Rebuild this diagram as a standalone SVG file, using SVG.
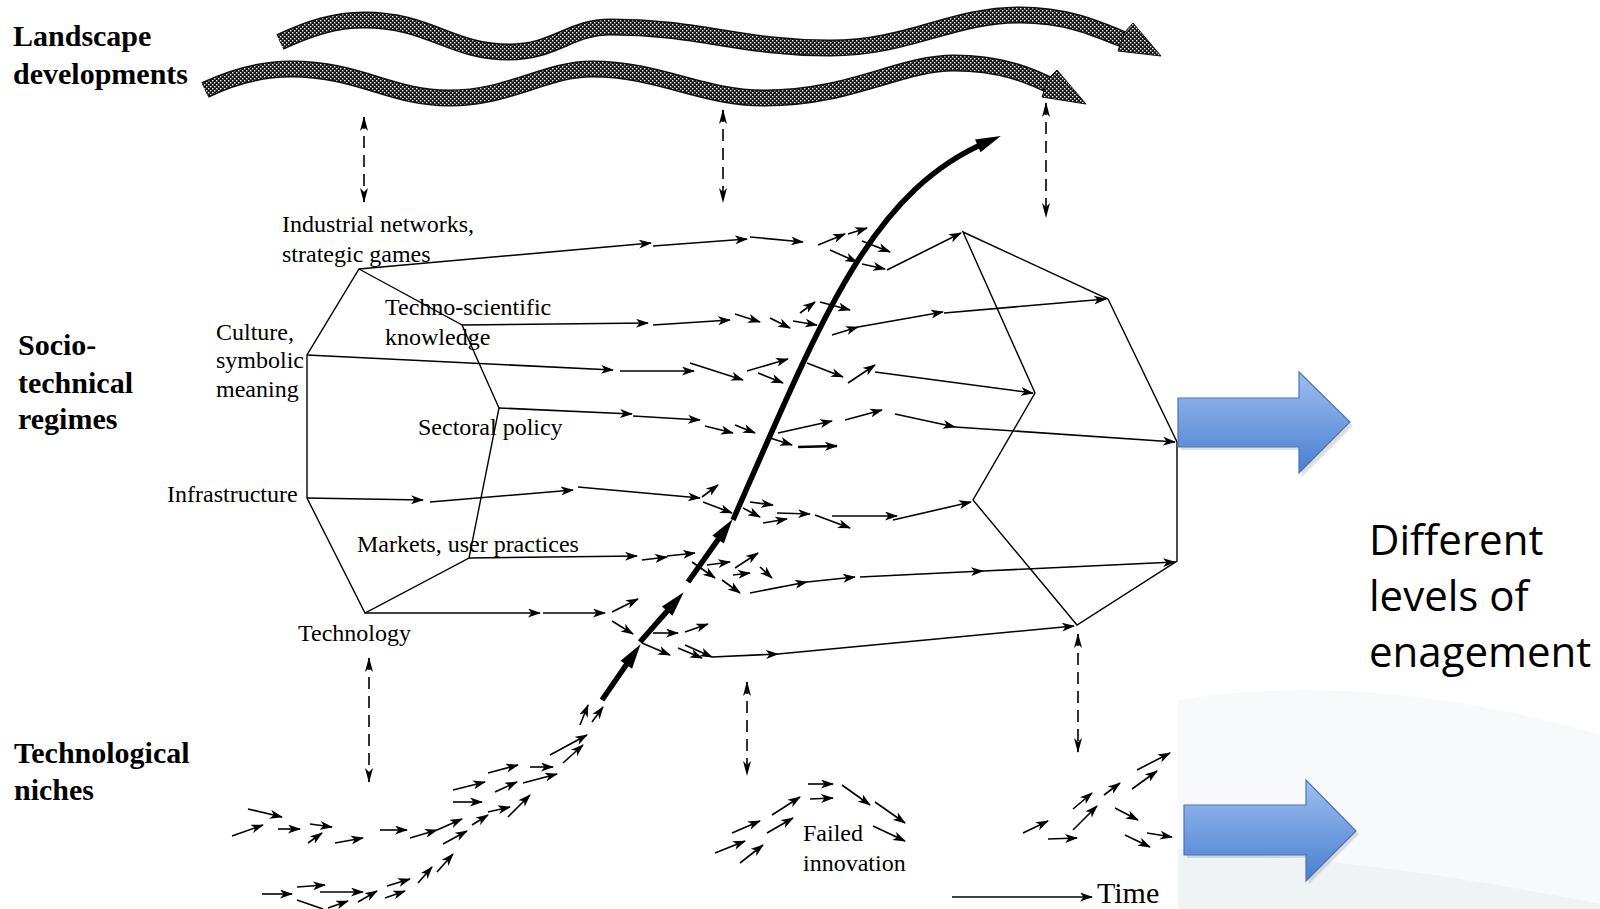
<svg xmlns="http://www.w3.org/2000/svg" width="1600" height="909" viewBox="0 0 1600 909">
<style>
.hd{font-family:"Liberation Serif","Times New Roman",serif;font-weight:bold;font-size:30px;fill:#000}
.lb{font-family:"Liberation Serif","Times New Roman",serif;font-size:24px;fill:#000}
.sn{font-family:"Open Sans","Noto Sans",sans-serif;font-size:42px;fill:#000}
.poly{fill:none;stroke:#000;stroke-width:1.4;stroke-linejoin:miter}
.s line{stroke:#000;stroke-width:1.6;marker-end:url(#ah)}
.dash{stroke:#000;stroke-width:1.6;stroke-dasharray:12 7;marker-start:url(#ad);marker-end:url(#ad)}
.thick{stroke:#000;stroke-width:5.5;fill:none;marker-end:url(#big)}
.bandEdge{fill:none;stroke:#111;stroke-width:17}
.bandFill{fill:none;stroke:url(#hatch);stroke-width:14}
.blue{fill:url(#bg);stroke:#4a75b5;stroke-width:1.2}
</style>
<defs>
<pattern id="hatch" width="4" height="4" patternUnits="userSpaceOnUse">
<rect width="4" height="4" fill="#161616"/>
<rect x="0" y="0" width="1.4" height="1.4" fill="#fff"/>
<rect x="2" y="2" width="1.4" height="1.4" fill="#fff"/>
</pattern>
<linearGradient id="bg" x1="0" y1="0" x2="0" y2="1">
<stop offset="0" stop-color="#9dbef0"/>
<stop offset="1" stop-color="#4a7fd0"/>
</linearGradient>
<marker id="ah" markerUnits="userSpaceOnUse" viewBox="-13 -4.5 14 9" refX="-1" refY="0" markerWidth="14" markerHeight="9" orient="auto">
<path d="M-13,-4.5 L0,0 L-13,4.5 L-9.5,0 Z" fill="#000"/>
</marker>
<marker id="ad" markerUnits="userSpaceOnUse" viewBox="-15 -4 16 8" refX="-1" refY="0" markerWidth="16" markerHeight="8" orient="auto-start-reverse">
<path d="M-15,-4 L0,0 L-15,4 L-11,0 Z" fill="#000"/>
</marker>
<marker id="big" markerUnits="userSpaceOnUse" viewBox="-11 -8 27 16" refX="0" refY="0" markerWidth="27" markerHeight="16" orient="auto">
<path d="M-10,-7 L15,0 L-10,7 Z" fill="#000"/>
</marker>
</defs>
<rect width="1600" height="909" fill="#fff"/>
<g id="slide-bg">
<path d="M1178,700 C1300,680 1450,690 1600,735 L1600,909 L1178,909 Z" fill="#f7f9fb"/>
<path d="M1178,850 C1350,858 1500,884 1600,904 L1600,909 L1178,909 Z" fill="#f0f3f4"/>
</g>
<g id="landscape-band-upper">
<path class="bandEdge" d="M280,42 C310,28 335,20 364,20 C430,20 450,52 509,52 C555,52 570,27 610,27 C700,27 740,48 830,48 C910,48 950,15 1020,15 C1070,15 1100,30 1132,43"/>
<path class="bandFill" d="M280,42 C310,28 335,20 364,20 C430,20 450,52 509,52 C555,52 570,27 610,27 C700,27 740,48 830,48 C910,48 950,15 1020,15 C1070,15 1100,30 1132,43"/>
<polygon points="1124,33 1133,23 1161,56 1118,51" fill="url(#hatch)" stroke="#111" stroke-width="1"/>
</g>
<g id="landscape-band-lower">
<path class="bandEdge" d="M205,90 C230,78 260,69 291,69 C360,69 390,98 449,98 C510,98 545,69 592,69 C660,69 700,98 765,98 C850,98 900,63 954,63 C1000,63 1030,75 1055,88"/>
<path class="bandFill" d="M205,90 C230,78 260,69 291,69 C360,69 390,98 449,98 C510,98 545,69 592,69 C660,69 700,98 765,98 C850,98 900,63 954,63 C1000,63 1030,75 1055,88"/>
<polygon points="1048,79 1057,70 1086,104 1042,97" fill="url(#hatch)" stroke="#111" stroke-width="1"/>
</g>
<g id="labels-levels">
<text class="hd" x="13" y="46">Landscape</text>
<text class="hd" x="13" y="84">developments</text>
<text class="hd" x="18" y="355">Socio-</text>
<text class="hd" x="18" y="393">technical</text>
<text class="hd" x="18" y="429">regimes</text>
<text class="hd" x="14" y="763">Technological</text>
<text class="hd" x="14" y="800">niches</text>
</g>
<g id="regime-left">
<polygon class="poly" points="359,269 462,325 499,408 469,558 365,613 307,498 307,355"/>
</g>
<g id="regime-right">
<polygon class="poly" points="963,232 1108,299 1177,442 1177,561 1077,625 973,500 1035,393"/>
</g>
<g id="dimension-labels">
<text class="lb" x="282" y="232">Industrial networks,</text>
<text class="lb" x="282" y="262">strategic games</text>
<text class="lb" x="385" y="315">Techno-scientific</text>
<text class="lb" x="385" y="345">knowledge</text>
<text class="lb" x="216" y="340">Culture,</text>
<text class="lb" x="216" y="368">symbolic</text>
<text class="lb" x="216" y="397">meaning</text>
<text class="lb" x="418" y="435">Sectoral policy</text>
<text class="lb" x="167" y="502">Infrastructure</text>
<text class="lb" x="357" y="552">Markets, user practices</text>
<text class="lb" x="298" y="641">Technology</text>
<text class="lb" x="803" y="841">Failed</text>
<text class="lb" x="803" y="871">innovation</text>
</g>
<g id="connectors">
<g class="s" id="stream-1">
<line x1="359" y1="269" x2="651" y2="243"/>
<line x1="653" y1="246" x2="747" y2="239"/>
<line x1="750" y1="237" x2="803" y2="242"/>
<line x1="818" y1="245" x2="845" y2="234"/>
<line x1="848" y1="234" x2="867" y2="228"/>
<line x1="862" y1="241" x2="890" y2="252"/>
<line x1="830" y1="250" x2="857" y2="262"/>
<line x1="862" y1="264" x2="885" y2="269"/>
<line x1="887" y1="270" x2="961" y2="233"/>
</g>
<g class="s" id="stream-2">
<line x1="462" y1="325" x2="648" y2="323"/>
<line x1="653" y1="325" x2="730" y2="320"/>
<line x1="735" y1="314" x2="760" y2="322"/>
<line x1="770" y1="318" x2="790" y2="328"/>
<line x1="793" y1="321" x2="817" y2="325"/>
<line x1="800" y1="313" x2="815" y2="302"/>
<line x1="820" y1="302" x2="850" y2="310"/>
<line x1="832" y1="335" x2="858" y2="327"/>
<line x1="858" y1="327" x2="943" y2="312"/>
<line x1="944" y1="313" x2="1106" y2="299"/>
</g>
<g class="s" id="stream-3">
<line x1="307" y1="355" x2="613" y2="370"/>
<line x1="620" y1="371" x2="694" y2="371"/>
<line x1="690" y1="363" x2="743" y2="380"/>
<line x1="747" y1="371" x2="788" y2="359"/>
<line x1="758" y1="373" x2="783" y2="383"/>
<line x1="807" y1="363" x2="843" y2="377"/>
<line x1="848" y1="383" x2="875" y2="365"/>
<line x1="875" y1="372" x2="1033" y2="393"/>
</g>
<g class="s" id="stream-4">
<line x1="499" y1="408" x2="632" y2="414"/>
<line x1="633" y1="416" x2="700" y2="420"/>
<line x1="705" y1="426" x2="733" y2="433"/>
<line x1="735" y1="425" x2="755" y2="433"/>
<line x1="778" y1="433" x2="832" y2="421"/>
<line x1="845" y1="420" x2="882" y2="410"/>
<line x1="770" y1="438" x2="792" y2="445"/>
<line x1="798" y1="447" x2="837" y2="446" style="stroke-width:2.4"/>
<line x1="895" y1="414" x2="955" y2="427"/>
<line x1="955" y1="427" x2="1175" y2="442"/>
</g>
<g class="s" id="stream-5">
<line x1="307" y1="498" x2="423" y2="500"/>
<line x1="430" y1="502" x2="573" y2="490"/>
<line x1="578" y1="487" x2="700" y2="498"/>
<line x1="702" y1="497" x2="718" y2="485"/>
<line x1="703" y1="502" x2="732" y2="513"/>
<line x1="750" y1="502" x2="773" y2="505"/>
<line x1="743" y1="508" x2="760" y2="517"/>
<line x1="763" y1="523" x2="787" y2="519"/>
<line x1="777" y1="513" x2="810" y2="514"/>
<line x1="815" y1="515" x2="850" y2="528"/>
<line x1="832" y1="516" x2="897" y2="516"/>
<line x1="893" y1="520" x2="971" y2="502"/>
</g>
<g class="s" id="stream-6">
<line x1="469" y1="558" x2="637" y2="556"/>
<line x1="642" y1="560" x2="667" y2="557"/>
<line x1="667" y1="556" x2="695" y2="553"/>
<line x1="707" y1="565" x2="730" y2="562"/>
<line x1="692" y1="562" x2="715" y2="578"/>
<line x1="735" y1="568" x2="758" y2="553"/>
<line x1="733" y1="575" x2="750" y2="573"/>
<line x1="760" y1="567" x2="772" y2="578"/>
<line x1="722" y1="580" x2="740" y2="593"/>
<line x1="750" y1="593" x2="807" y2="582"/>
<line x1="807" y1="582" x2="855" y2="577"/>
<line x1="860" y1="577" x2="983" y2="571"/>
<line x1="983" y1="571" x2="1175" y2="562"/>
</g>
<g class="s" id="stream-7">
<line x1="365" y1="613" x2="540" y2="613"/>
<line x1="543" y1="613" x2="605" y2="613"/>
<line x1="612" y1="612" x2="638" y2="599"/>
<line x1="612" y1="621" x2="633" y2="634"/>
<line x1="653" y1="633" x2="678" y2="633"/>
<line x1="685" y1="632" x2="708" y2="624"/>
<line x1="642" y1="643" x2="670" y2="655"/>
<line x1="678" y1="648" x2="702" y2="658"/>
<line x1="685" y1="645" x2="712" y2="657"/>
<line x1="712" y1="657" x2="778" y2="654"/>
<line x1="778" y1="654" x2="1074" y2="626"/>
</g>
<g class="s" id="niche-left">
<line x1="232" y1="836" x2="263" y2="825"/>
<line x1="248" y1="809" x2="282" y2="817"/>
<line x1="278" y1="829" x2="300" y2="829"/>
<line x1="310" y1="824" x2="332" y2="827"/>
<line x1="308" y1="843" x2="322" y2="833"/>
<line x1="335" y1="843" x2="363" y2="838"/>
<line x1="380" y1="830" x2="407" y2="830"/>
<line x1="410" y1="838" x2="437" y2="830"/>
<line x1="437" y1="830" x2="462" y2="819"/>
<line x1="443" y1="844" x2="467" y2="831"/>
<line x1="453" y1="802" x2="482" y2="802"/>
<line x1="453" y1="790" x2="485" y2="782"/>
<line x1="472" y1="825" x2="488" y2="815"/>
<line x1="488" y1="812" x2="510" y2="807"/>
<line x1="508" y1="817" x2="530" y2="795"/>
<line x1="495" y1="792" x2="517" y2="782"/>
<line x1="488" y1="773" x2="518" y2="765"/>
<line x1="523" y1="783" x2="557" y2="774"/>
<line x1="530" y1="767" x2="553" y2="767"/>
<line x1="550" y1="755" x2="587" y2="735"/>
<line x1="563" y1="763" x2="583" y2="745"/>
<line x1="580" y1="725" x2="588" y2="705"/>
<line x1="592" y1="722" x2="603" y2="707"/>
<line x1="262" y1="894" x2="292" y2="894"/>
<line x1="297" y1="887" x2="325" y2="885"/>
<line x1="320" y1="892" x2="363" y2="892"/>
<line x1="297" y1="900" x2="323" y2="909" style="marker-end:none"/>
<line x1="328" y1="908" x2="348" y2="901"/>
<line x1="358" y1="902" x2="377" y2="891"/>
<line x1="385" y1="898" x2="405" y2="891"/>
<line x1="387" y1="886" x2="410" y2="879"/>
<line x1="418" y1="883" x2="432" y2="867"/>
<line x1="437" y1="872" x2="453" y2="854"/>
</g>
<g class="s" id="niche-failed">
<line x1="715" y1="853" x2="745" y2="841"/>
<line x1="732" y1="833" x2="760" y2="821"/>
<line x1="740" y1="863" x2="763" y2="845"/>
<line x1="767" y1="833" x2="793" y2="818"/>
<line x1="772" y1="815" x2="800" y2="797"/>
<line x1="808" y1="784" x2="833" y2="784"/>
<line x1="810" y1="799" x2="833" y2="798"/>
<line x1="842" y1="785" x2="870" y2="805"/>
<line x1="875" y1="802" x2="905" y2="823"/>
<line x1="873" y1="826" x2="905" y2="841"/>
</g>
<g class="s" id="niche-right">
<line x1="1023" y1="833" x2="1048" y2="821"/>
<line x1="1048" y1="839" x2="1077" y2="838"/>
<line x1="1073" y1="830" x2="1097" y2="806"/>
<line x1="1073" y1="809" x2="1092" y2="793"/>
<line x1="1104" y1="795" x2="1120" y2="783"/>
<line x1="1132" y1="789" x2="1157" y2="771"/>
<line x1="1137" y1="770" x2="1170" y2="753"/>
<line x1="1115" y1="808" x2="1138" y2="820"/>
<line x1="1125" y1="835" x2="1150" y2="847"/>
<line x1="1147" y1="833" x2="1172" y2="837"/>
</g>
<g id="interactions">
<line class="dash" x1="364" y1="117" x2="364" y2="202"/>
<line class="dash" x1="723" y1="110" x2="723" y2="202"/>
<line class="dash" x1="1046" y1="103" x2="1046" y2="217"/>
<line class="dash" x1="369" y1="658" x2="369" y2="782"/>
<line class="dash" x1="747" y1="682" x2="747" y2="775"/>
<line class="dash" x1="1078" y1="634" x2="1078" y2="752"/>
</g>
<g id="breakthrough">
<line class="thick" x1="602" y1="700" x2="632" y2="656.5"/>
<line class="thick" x1="640" y1="642" x2="673.8" y2="603.5"/>
<line class="thick" x1="688" y1="582" x2="723.9" y2="531.4"/>
<path class="thick" d="M733,520 C821,320 870,192 987,142"/>
</g>
<g id="time-axis">
<line x1="952" y1="897" x2="1092" y2="897" stroke="#000" stroke-width="1.5" marker-end="url(#ah)"/>
</g>
</g>
<g id="time-label"><text x="1097" y="903" style="font-family:'Liberation Serif','Times New Roman',serif;font-size:30px">Time</text></g>
<g id="blue-arrow-upper">
<path d="M1181,401 L1302,401 L1302,376 L1353,426 L1302,477 L1302,450 L1181,450 Z" fill="#000" opacity="0.12"/>
<path class="blue" d="M1178,398 L1299,398 L1299,372 L1350,422 L1299,473 L1299,447 L1178,447 Z"/>
</g>
<g id="blue-arrow-lower">
<path d="M1187,808 L1309,808 L1309,784 L1359,834 L1309,884 L1309,858 L1187,858 Z" fill="#000" opacity="0.12"/>
<path class="blue" d="M1184,805 L1306,805 L1306,780 L1356,831 L1306,881 L1306,855 L1184,855 Z"/>
</g>
<g id="engagement-label">
<text class="sn" x="1369" y="555">Different</text>
<text class="sn" x="1369" y="611">levels of</text>
<text class="sn" x="1369" y="667">enagement</text>
</g>
</svg>
